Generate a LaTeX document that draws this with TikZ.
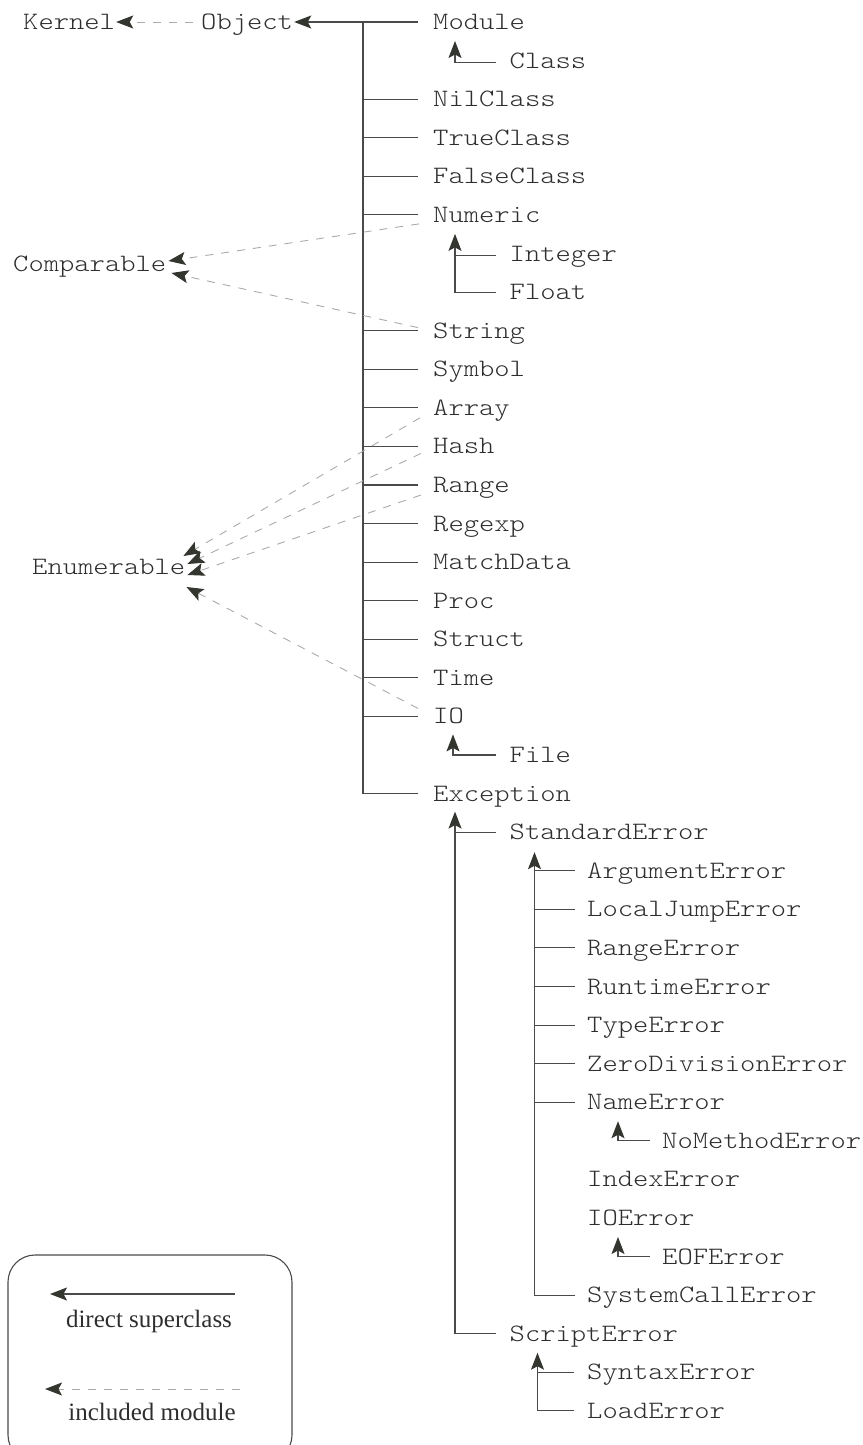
\documentclass[tikz,border=0pt]{standalone}
\usepackage{fontspec}
\setmainfont{Liberation Serif}
\newfontfamily\codefont{Latin Modern Mono Light}[FakeStretch=1.166]
\usetikzlibrary{arrows.meta,calc}

\definecolor{ink}{HTML}{2E2E2E}
\definecolor{wire}{HTML}{4A4A4A}
\definecolor{tipc}{HTML}{33352F}
\definecolor{mixin}{HTML}{AAAAAA}

\tikzset{
  cls/.style={anchor=west, inner sep=0pt, text height=15pt, text depth=0pt,
    font=\codefont\fontsize{25}{30}\selectfont, text=ink},
  sub/.style={draw=wire, line width=1.1pt},
  tip/.style={-{Stealth[length=17pt,width=13pt,inset=3.5pt,color=tipc]}},
  inherit/.style={draw=wire, line width=1.1pt, tip},
  incl/.style={draw=mixin, line width=0.9pt, dash pattern=on 8pt off 8pt, tip},
  legendtext/.style={anchor=base, inner sep=0pt,
    font=\fontsize{25}{30}\selectfont, text=ink},
}

\begin{document}
\begin{tikzpicture}[x=1pt,y=-1pt]
\useasboundingbox (0,0) rectangle (862,1445);
\clip (0,0) rectangle (862,1445);

% ---- class and module names ----
\node[cls] (Kernel)     at (23,22)      {Kernel};
\node[cls] (Object)     at (201,22)     {Object};
\node[cls] (Comparable) at (13,264)     {Comparable};
\node[cls] (Enumerable) at (32,567)     {Enumerable};

\node[cls] (Module)     at (433,22)      {Module};
\node[cls] (Class)      at (509.5,60.6)  {Class};
\node[cls] (NilClass)   at (433,99.2)    {NilClass};
\node[cls] (TrueClass)  at (433,137.7)   {TrueClass};
\node[cls] (FalseClass) at (433,176.3)   {FalseClass};
\node[cls] (Numeric)    at (433,214.9)   {Numeric};
\node[cls] (Integer)    at (509.5,253.5) {Integer};
\node[cls] (Float)      at (509.5,292.1) {Float};
\node[cls] (String)     at (433,330.6)   {String};
\node[cls] (Symbol)     at (433,369.2)   {Symbol};
\node[cls] (Array)      at (433,407.8)   {Array};
\node[cls] (Hash)       at (433,446.4)   {Hash};
\node[cls] (Range)      at (433,485)     {Range};
\node[cls] (Regexp)     at (433,523.5)   {Regexp};
\node[cls] (MatchData)  at (433,562.1)   {MatchData};
\node[cls] (Proc)       at (433,600.7)   {Proc};
\node[cls] (Struct)     at (433,639.3)   {Struct};
\node[cls] (Time)       at (433,677.9)   {Time};
\node[cls] (IO)         at (433,716.4)   {IO};
\node[cls] (File)       at (509.5,755)   {File};
\node[cls] (Exception)  at (433,793.6)   {Exception};

\node[cls] (StandardError)     at (509.5,832.2) {StandardError};
\node[cls] (ArgumentError)     at (587,870.8)   {ArgumentError};
\node[cls] (LocalJumpError)    at (587,909.3)   {LocalJumpError};
\node[cls] (RangeError)        at (587,947.9)   {RangeError};
\node[cls] (RuntimeError)      at (587,986.5)   {RuntimeError};
\node[cls] (TypeError)         at (587,1025.1)  {TypeError};
\node[cls] (ZeroDivisionError) at (587,1063.7)  {ZeroDivisionError};
\node[cls] (NameError)         at (587,1102.2)  {NameError};
\node[cls] (NoMethodError)     at (662,1140.8)  {NoMethodError};
\node[cls] (IndexError)        at (587,1179.4)  {IndexError};
\node[cls] (IOError)           at (587,1218)    {IOError};
\node[cls] (EOFError)          at (662,1256.6)  {EOFError};
\node[cls] (SystemCallError)   at (587,1295.1)  {SystemCallError};
\node[cls] (ScriptError)       at (509.5,1333.7) {ScriptError};
\node[cls] (SyntaxError)       at (587,1372.3)  {SyntaxError};
\node[cls] (LoadError)         at (587,1410.9)  {LoadError};

% ---- Object and its direct subclasses ----
\coordinate (trunk) at (363,22);
\draw[inherit] ($(Module.west)+(-15,0)$) -- ($(Object.east)+(1,0)$);
\draw[sub] (trunk) -- (trunk |- Exception.west) -- ($(Exception.west)+(-15,0)$);
\foreach \n in {NilClass,TrueClass,FalseClass,Numeric,String,Symbol,Array,
                Hash,Range,Regexp,MatchData,Proc,Struct,Time,IO}
  \draw[sub] (trunk |- \n.west) -- ($(\n.west)+(-15,0)$);

% ---- deeper subclass chains ----
\draw[inherit] ($(Class.west)+(-14,2)$) -| ($(Module.west)+(22,19)$);

\coordinate (numx) at ($(Numeric.west)+(22,19)$);
\draw[sub] ($(Integer.west)+(-14,2)$) -- ($(Integer.west -| numx)+(0,2)$);
\draw[inherit] ($(Float.west)+(-14,0)$) -| (numx);

\draw[inherit] ($(File.west)+(-14,0)$) -| ($(IO.west)+(20,18)$);

\coordinate (excx) at ($(Exception.west)+(22,18)$);
\draw[sub] ($(StandardError.west)+(-14,0)$) -- (StandardError.west -| excx);
\draw[inherit] ($(ScriptError.west)+(-14,0)$) -| (excx);

\coordinate (stdx) at ($(StandardError.west)+(25,20)$);
\foreach \n in {ArgumentError,LocalJumpError,RangeError,RuntimeError,
                TypeError,ZeroDivisionError,NameError}
  \draw[sub] ($(\n.west)+(-12,0)$) -- (\n.west -| stdx);
\draw[inherit] ($(SystemCallError.west)+(-12,0)$) -| (stdx);

\draw[inherit] ($(NoMethodError.west)+(-12,0)$) -| ($(NameError.west)+(31,19)$);
\draw[inherit] ($(EOFError.west)+(-12,0)$) -| ($(IOError.west)+(31,19)$);

\coordinate (scrx) at ($(ScriptError.west)+(28,19)$);
\draw[sub] ($(SyntaxError.west)+(-13,0)$) -- (SyntaxError.west -| scrx);
\draw[inherit] ($(LoadError.west)+(-13,0)$) -| (scrx);

% ---- included modules ----
\draw[incl] ($(Object.west)+(-8,0)$) -- ($(Kernel.east)+(1,0)$);
\draw[incl] ($(Numeric.west)+(-14,9)$) -- ($(Comparable.east)+(2,-3)$);
\draw[incl] ($(String.west)+(-15,-3)$) -- ($(Comparable.east)+(5,9)$);
\draw[incl] ($(Array.west)+(-13,10)$) -- ($(Enumerable.east)+(-2,-11)$);
\draw[incl] ($(Hash.west)+(-12,7)$)   -- ($(Enumerable.east)+(2,-3)$);
\draw[incl] ($(Range.west)+(-12,10)$) -- ($(Enumerable.east)+(2,8)$);
\draw[incl] ($(IO.west)+(-15,-8)$)    -- ($(Enumerable.east)+(1,20)$);

% ---- legend ----
\draw[draw=wire, line width=1.1pt, rounded corners=27pt] (8,1255) rectangle (292,1462);
\coordinate (lgA) at (235,1294);
\coordinate (lgB) at (50,1294);
\draw[inherit] (lgA) -- (lgB);
\node[legendtext] (lgT1) at (149,1327) {direct superclass};
\coordinate (lgC) at (240,1389);
\coordinate (lgD) at (45,1389);
\draw[incl] (lgC) -- (lgD);
\node[legendtext] (lgT2) at (152,1420) {included module};
\end{tikzpicture}
\end{document}
